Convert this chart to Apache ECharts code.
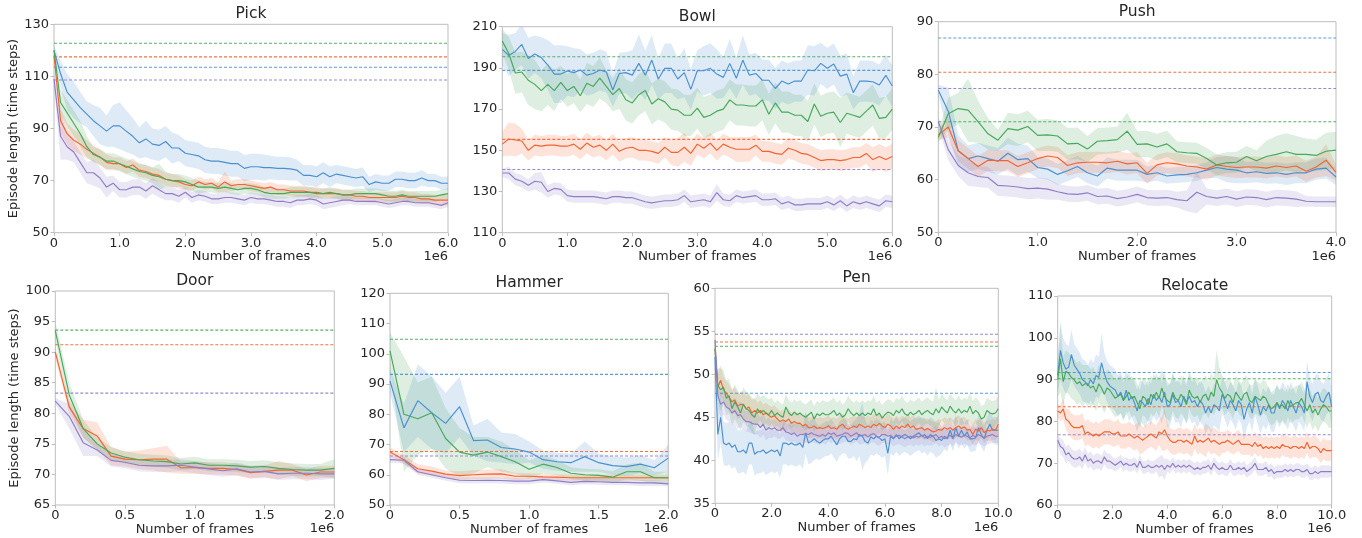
<!DOCTYPE html>
<html><head><meta charset="utf-8">
<script src="https://cdn.jsdelivr.net/npm/echarts@6/dist/echarts.min.js"></script>
<style>html,body{margin:0;padding:0;background:#fff}#c{width:1362px;height:538px}</style>
</head><body><div id="c"></div>
<script>
// ---------------- DATA (x sampled every 0.1e6 frames) ----------------
const STEP = 0.1;
const SERIES_COLORS = ['blue','orange','green','purple'];

// Pick
const pickBlue = [120,111,104,101,98,95.5,93,91,89,91, 91,89,87,84.5,86,84,83.5,85,82.5,82.5, 80.5,80,79.5,78,77.5,77.5,77,76.5,76.5,74.7, 75.3,75.3,75,75,74.7,74.7,74.5,74,72,72, 71.5,73,71.5,72.5,72,71.5,71,71.5,68.5,69.5, 69,69,70.5,70.5,70,70,71,70,70,69, 69];
const pickBlueS = [2,5,7,7,6,5,6,7,6,8, 9,8,7,6,7,6,6,6,6,5, 5,5,5,5,5,5,5,5,5,5, 5,5,5,4.5,4.5,4.5,4.5,4,4,4, 4,4,4,3.5,3.5,3.5,3.5,3.5,3,3, 3,3,3,3,3,3,3,2.5,2.5,2.5, 2.5];
const pickOrange = [118,93,88,85.5,84,82,80.5,79,77,76.5, 76.5,75,76,74,73.5,72.5,72,70.5,70,69.5, 68.5,68,69.5,68.5,69,67.5,69.5,68,68.5,68.5, 68,67.5,67,67.5,66.5,66.5,66,66,66,65.5, 65.5,65,65,65,64.5,64.5,64,64,63.5,63.5, 63.5,63.5,63.5,64,63.5,63.5,63,63,62.5,62.5, 62.5];
const pickOrangeS = [2,5,4,4,4,3.5,3,3,3,2.5, 2.5,2.5,2.5,2.5,2.5,2.5,2.5,2.5,2.5,2.5, 2,2,2,2,2,2,4,2,2,2, 2,2,2,2,2,2,2,2,2,2, 2,2,2,2,2,2,2,2,2,2, 2,2,2,2,2,2,2,2,2,2, 2];
const pickGreen = [120,100,96,92,88,83,80,79,77.5,77.5, 76.5,75.5,74.5,73.5,73,72,71.5,70.5,70,70, 69.5,68.5,67.5,67.5,67.5,67,67.5,67,66.5,67, 67,66.5,65.5,65,65,65,65.5,65.5,65.5,65.5, 65,65,65.5,65,64.5,64.5,65,65,65,65, 64.5,64,64,64.5,64,64,64,64,64,64.5, 65];
const pickGreenS = [2,5,5,5,5,4,3,3,3,3, 3,3,3,3,3,3,5,3,2.5,2.5, 2.5,2.5,2.5,2,2,2,2,2,2,2, 2,2,2,2,2,2,2,2,2,2, 2,2,2,2,2,2,2,2,2,2, 2,2,2,2,2,2,2,2,2,2, 2];
const pickPurple = [109,87,83,81,77,73,73,71,67.5,69, 66.5,66.5,67.5,67.5,66,68,66.5,65,65,64, 65.5,63.5,64.5,64,63,63,63.5,63.5,63,62.5, 63.5,63,63,62.5,62,62,61.5,62.5,62.5,63, 62.5,61,61.5,62,62.5,62.5,62,62,62,62, 61.5,61,61.5,62,62,61.5,61.5,61.5,61,60.5, 61.5];
const pickPurpleS = [3,9,5,4,4,4,5,4,4,3, 3,3,3,3,3,3,3,2.5,2.5,2.5, 2,2,2,2,2,2,2,2,2,2, 2,2,2,2,2,2,2,2,2,2, 2,2,2,2,2,1.5,1.5,1.5,1.5,1.5, 1.5,1.5,1.5,1.5,1.5,1.5,1.5,1.5,1.5,1.5, 1.5];
const pickRef = [113.5, 117.5, 122.7, 108.6];

// Bowl
const bowlBlue = [199,196,198,201.4,194.6,196.7,195,191.4,187,187, 188.5,187.7,189,186.5,187.3,189,188,179.3,187.3,187.7, 186.5,192.2,186.4,193.8,184.6,189.8,189.8,184.6,187.7,179.6, 188.6,188.6,189.8,187,185.4,192.2,185,193.8,186.5,187.3, 184,184,180,183.6,182.2,183.6,183.6,189,188.6,192.2, 189.8,191.9,186,187,178,183.6,183.6,183.3,181.7,186.4, 181.2];
const bowlBlueS = [8,10,9,10,10,9,10,12,14,14, 12,12,10,10,10,10,10,8,10,10, 12,14,12,12,10,12,12,10,12,10, 10,12,12,12,10,12,10,12,10,10, 10,10,10,10,10,10,10,12,12,10, 10,10,10,10,8,10,10,10,10,10, 10];
const bowlOrange = [153,155.5,155,154.5,150,152.5,152,152.5,152.5,152, 152,153,150.5,153.5,151.5,152.5,150,153,149.5,151, 151.5,150,150,149.5,148.5,151.5,149,149,151.5,148.5, 153,151,153.5,150,153,151.5,150.5,150.5,150.5,152.5, 149.5,149.5,148.5,148,151,150,148.5,148,146.5,145, 145.5,145.5,145,145.5,146.5,146.5,148.5,145.5,147,145.5, 147];
const bowlOrangeS = [6,8,8,6,5,5,5,5,5,5, 5,5,5,5,5,5,5,5,5,5, 5,5,5,5,5,5,6,7,7,6, 5,5,5,5,5,5,6,6,6,5, 5,5,5,5,5,5,5,5,5,5, 5,5,5,5,5,5,5,6,6,6, 6];
const bowlGreen = [203,197,187.5,188,184,182,179,182,179,183, 179,181,176.5,182.5,181,185,181,177,180,174.5, 173,177,179,172.5,175,173.5,170,169.5,167,167, 170.5,166,167,169,170,174.5,172,172,171.5,171.5, 174.5,167.5,173,168.5,168.5,167,167,164,172.5,166.5, 168,168.5,163.5,168,167,166,169,172,165.5,166, 170];
const bowlGreenS = [6,8,10,10,12,12,10,10,10,8, 8,8,8,10,10,10,8,8,10,10, 10,10,10,10,10,10,10,10,10,10, 10,10,10,10,10,10,10,10,10,10, 10,10,10,10,10,10,10,10,10,10, 10,10,12,10,10,10,10,10,10,10, 10];
const bowlPurple = [139,139,136,135,133,135,134.5,130,131.5,131, 128,127.5,127.5,127.5,127.5,127,126.5,127.5,127.5,127, 127,126,125,124.5,125,125.5,125.5,126,128,125, 125.5,126,125,129.5,126,125.5,128,127,127.5,128, 126,126,126.5,124,125,123.5,123.5,124,124,124, 125,123.5,125.5,123,125,124,125,124,123,125.5, 125];
const bowlPurpleS = [2,3,3,3,3,4,5,3,3,3, 3,3,3,3,3,3,3,3,3,3, 3,3,3,3,3,3,3,3,3,3, 3,3,3,4,3,3,3,3,3,3, 3,3,3,3,3,3,3,3,3,3, 3,3,3,3,3,3,3,3,3,3, 3];
const bowlRef = [188.8, 155.3, 195.4, 140.7];

// Push
const pushBlue = [77,73,65.5,64,64.5,64,63.5,65,63.8,64, 62.3,62,61,61.7,62.5,61.3,60.7,62.2,61.8,61.8, 61.8,61,61.3,60.7,60.9,61,61.3,61.8,62.3,62, 61.8,61.3,61.5,61.2,61.3,61,61.3,61.3,62,62.2, 60.5];
const pushBlueS = [1,4.5,3,2.5,2.5,2.5,2.5,3,3,2.5, 2,2,2,2,2,2,2,2,2,2, 2,1.5,1.5,1.5,1.5,1.5,1.5,1.5,2,2.5, 2.5,2,2,2,2,2,2,2,2,2, 1.5];
const pushOrange = [68.5,70,65.5,64,62.5,63.7,63.6,63.6,62.5,63.2, 64,64.5,64.2,62.7,63.2,63.3,63.3,63.2,63.5,63, 63.2,61.2,62.8,63.2,63,62.6,62.4,62,62.8,62.5, 62.3,62.4,62.4,62.2,62.6,62.3,62.6,61.6,62.4,63.7, 61.4];
const pushOrangeS = [1,2,2,2,2,2,2,2,2,2, 2,2,2,2,2,2,2,2,2,2, 2,2,2,2,2,2,2,2,2,2, 2,2,2,2,2,2,2,2,2,3, 1.5];
const pushGreen = [68,72.5,73.5,73.2,71,68.7,67.5,69.7,69.4,70.1, 68.4,68.5,68.3,66.8,66.9,65.8,67.3,67.4,67.6,69.2, 66.7,66.8,66.2,66.8,65.3,65.1,65,64,62.8,63.2, 63.3,64.4,63.6,64.4,64.8,65.3,64.8,64.8,64.6,65.4, 65.6];
const pushGreenS = [1,3,3,6,4,3,2,3,3,3, 3,3,3,3,3,2.5,2.5,2.5,2.5,3.5, 2.5,2.5,2.5,2.5,2,2,2,2,2,2, 2,2,2,3,3.5,3.5,3.5,3,3,3.5, 3.5];
const pushPurple = [71,65.7,62.7,61.3,60.6,60.4,58.9,58.8,58.6,58.3, 58.4,58.2,57.7,57.3,57.2,57.5,56.8,56.9,56.4,56.7, 57.2,56.6,56.5,56.6,56.2,56,57.6,56.8,56.5,56.8, 56.3,56.7,56.6,56.2,56.6,56.5,56.3,55.9,55.8,55.8, 55.8];
const pushPurpleS = [1,2,2,2.5,2,2,2,2,2,2, 2,2,1.5,1.5,1.5,1.5,1.5,1.5,1.5,1.5, 1.5,1.5,1.5,1.5,1.5,2,4,1.5,1.5,1.5, 1.5,1.5,1.5,1.5,1.5,1.5,1.5,1,1,1, 1];
const pushRef = [86.9, 80.4, 71, 77.3];

// Door (no blue series)
const doorOrange = [90,81,77.5,76.3,73,72.5,72.4,72.5,72.5,71.1, 71.1,71,71,70.8,70.3,70.5,70.7,70.7,69.9,70.4, 70.4];
const doorOrangeS = [1,1,1.5,2.2,1.5,1.2,1.5,1.8,2.2,1, 1,1,1,1,1,1,1.5,1,1,1, 1];
const doorGreen = [93.5,83,77.5,75,73.5,72.8,72.4,72.2,72.1,71.7, 71.9,71.5,71.5,71.4,71.2,71.3,71,70.8,70.7,70.7, 71];
const doorGreenS = [1.5,2,1.5,1,1,1,1,1,1,1, 1,1,1,1,1,1,1,1,1,1, 1.5];
const doorPurple = [82,79.5,75.2,74,72.3,72,71.5,71.4,71.4,71.5, 71.2,70.9,70.6,70.9,70.4,70.5,70.1,70.2,70.2,70.1, 70.1];
const doorPurpleS = [0.5,2,2.2,1,1,1,1,1,1,1, 1,1,1,1,1,1,1,1,1,1, 0.8];
const doorRef = [null, 91.2, 93.6, 83.3];

// Hammer
const hammerBlue = [91,75.5,84.5,80.5,77,82.5,71.3,71.5,69,68.5, 67.5,65,64.3,64,66,64,63,62.7,63.5,62.3, 65.5];
const hammerBlueS = [4,8,12,12,10,10,5,7,5,5, 3.5,3,3,3,5,3,3,3,3,2.5, 4.5];
const hammerOrange = [67.5,65,62,61.2,60.2,59.7,60,60.2,60.3,59.5, 59.5,59.3,59.2,59,59,59,59,59,59,59, 59];
const hammerOrangeS = [1.5,1.5,1.5,1.5,1.2,1.5,1.5,1.5,1.5,1.2, 1,1,1,1,1,1,1,1,1,1, 1];
const hammerGreen = [101,80,78.5,80.5,72,67.5,66.5,67.5,66,64.3, 61.8,63.5,62.4,60.5,60,59.8,59.2,61,61,59, 59];
const hammerGreenS = [6,19,12,12,10,8,6,5,5,4, 3,3,2.5,2,2,2,2,2.5,3,2, 2];
const hammerPurple = [65,64.8,61,60,59,58.2,58.1,58.2,58.1,57.9, 57.9,58.4,58,57.5,57.8,57.7,57.5,57.5,57.3,57.3, 57];
const hammerPurpleS = [1,1,1,1,1,1,1,1,1,1, 1,1,1,1,1,1,1,1,1,1, 0.8];
const hammerRef = [93.2, 67.7, 104.8, 66.2];

// Pen
const penBlue = [52,43,45,42,41.8,42,41.5,41.8,41,41, 41.2,40.8,42,42,40.7,41,41,41.2,40.8,41, 41.2,41,41.2,40.5,42,42,41.8,42,41.8,41.8, 42,41.5,43.2,42,42.2,42.5,42.2,42,42.3,42.5, 42.5,42.8,42.3,41.8,42.5,42.8,42.8,42.2,42.2,42.5, 42.4,43,42.8,42.2,42,42.7,42.5,42.8,42.6,42.3, 42.5,40.8,42.8,42.5,43,42.5,42.8,43,42.8,42.5, 42.8,43,43.2,42.8,43,42.5,43,42.8,42.3,42.5, 42.3,42.8,42.5,43.5,42.5,43.8,42.8,43.5,42.8,43.3, 42.5,42.5,42.6,43.8,43,42.5,43.5,44.2,43.5,43.5, 43.5];
const penBlueS = [2,3,3,2.5,2.5,2.5,2.5,2.5,2.5,2.5, 2.5,2.5,2.5,2.5,2.5,2.5,2.5,2.5,2.5,2.5, 2.5,2.5,2.5,2.5,2.5,2.5,2.5,2.5,2.5,2.5, 2.5,2.5,2.5,2.5,2.5,2.5,2,2,2,2, 2,2,2,2,2,2,2,2,2,2, 2.5,2.5,4,2.5,2,2,2,2,2,2, 2,2.5,2,2,2,2,2,2,2,2, 2,2,2,2,2,2,2,2,2,2, 1.5,1.5,1.5,1.5,1.5,1.5,1.5,1.5,1.5,1.5, 1.5,1.5,1.5,1.5,1.5,1.5,1.5,1.5,1.5,1.5, 1.5];
const penOrange = [53,48.5,49.3,48.2,47.8,47.3,46.8,47,46.3,46.5, 46.5,46,46.2,45.5,45.8,45.5,45.8,45.3,45.5,45.2, 45,45.2,44.8,44.5,44.7,44.5,44.8,44.3,44.5,44.3, 44.3,44,44.2,43.8,43.8,44,43.7,43.8,43.7,43.8, 44,43.7,43.8,43.6,44,44.2,43.8,43.6,43.8,44, 43.8,44.2,44,43.8,44,43.8,44.2,44,44.3,44, 43.8,44.2,44,43.6,44,43.7,44,43.8,44.2,43.8, 44,43.6,43.7,43.8,43.5,43.7,43.5,43.3,43.4,43.6, 43.5,43.8,43.6,43.8,43.5,43.8,44,43.7,43.9,43.5, 43.6,43,43.6,43.4,43.8,43.2,43.5,43.4,43.6,43.5, 44.2];
const penOrangeS = [1,1.5,1.8,1.5,1.5,1.5,1.5,1.5,1.5,1.5, 1.5,1.5,1.5,1.5,1.5,1.2,1.2,1.2,1.2,1.2, 1.2,1.2,1.2,1.2,1.2,1.2,1.2,1.2,1.2,1.2, 1.2,1.2,1.2,1.2,1.2,1.2,1.2,1.2,1.2,1.2, 1.2,1.2,1.2,1.2,1.2,1.2,1.2,1.2,1.2,1.2, 1.2,1.2,1.2,1.2,1.2,1.2,1.2,1.2,1.2,1.2, 1.2,1.2,1.2,1.2,1.2,1.2,1.2,1.2,1.2,1.2, 1.2,1.2,1.2,1.2,1.2,1.2,1.2,1.2,1.2,1.2, 1.2,1.2,1.2,1.2,1.2,1.2,1.2,1.2,1.2,1.2, 1.2,1.2,1.2,1.2,1.2,1.2,1.2,1.2,1.2,1.2, 1.2];
const penGreen = [53,48.7,48.2,48.5,47.2,47.5,46,46.8,46.2,45.5, 46.5,46,45.8,45.3,45,46,45.5,45.8,45.5,45.3, 45.8,45.2,45.5,45.2,45,46.2,45.5,45.2,45.6,45.3, 45.5,45.2,45,45.3,45.6,44.8,45.4,45.2,45.5,45.3, 45.3,45.5,45.8,45.2,45.5,45,45.3,46,45.5,45.2, 45.5,45.2,45.5,45.2,45.5,45.3,46,45.2,45.5,44.9, 45.3,45.6,45.5,45.2,45.8,45.5,46,45.4,45.2,45.6, 45.3,45.5,45.8,45.3,45.6,45.8,45.5,45.3,46,45.5, 46.2,45.8,45.5,46.3,45.8,45.5,46,45.5,45.8,45.6, 46.3,45.4,45.8,45.5,44.8,45,45.8,45.5,45.4,45.5, 46];
const penGreenS = [1,2,2.5,2,2,2,2,2,2,2, 2,2,2,2,2,1.8,1.8,1.8,1.8,1.8, 1.5,1.5,1.5,1.5,1.5,1.5,1.5,1.5,1.5,1.5, 1.5,1.5,1.5,1.5,1.5,1.5,1.5,1.5,1.5,1.5, 1.5,1.5,1.5,1.5,1.5,1.5,1.5,1.5,1.5,1.5, 1.5,1.5,1.5,1.5,1.5,1.5,1.5,1.5,1.5,1.5, 1.5,1.5,1.5,1.5,1.5,1.5,1.5,1.5,1.5,1.5, 1.5,1.5,1.5,1.5,1.5,1.5,1.5,1.5,2.5,1.5, 1.5,1.5,1.5,1.5,1.5,1.5,1.5,1.5,1.5,1.5, 1.5,1.5,1.5,1.5,1.5,1.5,1.5,1.5,1.5,1.5, 1.5];
const penPurple = [54,47.5,46.5,46.8,46.2,46,45.5,45.8,45.2,45.3, 44.8,44.5,44.5,44.3,44.2,44.2,43.8,44.2,43.5,43.8, 43.6,43.8,43.5,43.5,43.8,43.3,43.2,43,43.2,42.8, 43,43,43.1,43,43.2,43,42.9,42.8,43,42.8, 43.2,43,43.2,42.8,42.9,43,43.2,43.1,42.8,43, 43.2,42.8,42.9,43,42.7,43,43.1,42.8,42.7,43, 43,42.8,42.9,42.6,42.8,42.9,42.7,42.5,42.7,42.8, 42.6,42.8,42.7,42.9,42.6,42.8,42.7,42.8,43,42.6, 42.8,42.5,42.7,42.9,42.6,43,42.8,42.7,42.9,42.8, 42.6,42.9,42.7,43,42.8,42.6,42.8,42.9,43,42.8, 42.8];
const penPurpleS = [1,1.5,1.5,1.5,1.5,1.5,1.5,1.5,1.5,1.5, 1.2,1.2,1.2,1.2,1.2,1.2,1.2,1.2,1.2,1.2, 1,1,1,1,1,1,1,1,1,1, 1,1,1,1,1,1,1,1,1,1, 1,1,1,1,1,1,1,1,1,1, 1,1,1,1,1,1,1,1,1,1, 1,1,1,1,1,1,1,1,1,1, 1,1,1,1,1,1,1,1,1,1, 1,1,1,1,1,1,1,1,1,1, 1,1,1,1,1,1,1,1,1,1, 1];
const penRef = [47.8, 53.76, 53.26, 54.65];

// Relocate
const relocateBlue = [91,97,94,92.5,93,96,93.5,92.5,91.5,90, 89.5,88.5,90,89,91,90.5,94,91.5,89.5,88.5, 88,87.5,86,87,85,87.5,85,86,84.5,82.5, 85,84.5,83.5,85.5,84,86.5,85,86,84.5,87, 83.5,84,86.5,84.5,85,83.5,86,84.5,86,84.5, 85,83.5,85,84,82,83.5,82,84,83.5,82.5, 86.5,85,83,85,84,82.5,85,84,80.5,83, 84.5,82,86,84,81.5,83.5,82.5,84,82,82, 84.5,83,85,84,82.5,85,83.5,82,84.5,83.5, 82,89.5,86,84.5,86.5,87,85,84.5,86,87, 83.5];
const relocateBlueS = [4,7,6,6,5,6,5,5,5,5, 5,5,5,5,5,5,7,5,5,5, 5,5,5,5,5,5,5,5,5,5, 5,5,5,5,5,5,5,5,5,5, 5,5,5,5,5,5,5,5,5,5, 5,5,5,5,5,5,5,5,5,5, 4.5,4.5,4.5,4.5,4.5,4.5,4.5,4.5,5,4.5, 4.5,4.5,4.5,4.5,4.5,4.5,4.5,4.5,4.5,4.5, 4.5,4.5,4.5,4.5,4.5,4.5,4.5,4.5,4.5,4.5, 4.5,5,4.5,4.5,4.5,4.5,4.5,4.5,4.5,4.5, 4.5];
const relocateOrange = [82.5,82,83,80.5,80,79,78.5,78.5,78.5,79, 77,77.5,77,76.5,77,76.5,77,77.5,77.5,77.5, 77,77,77.5,76.5,76.5,76.5,77,76.5,76,76.5, 76,75.5,76,76.5,77,76.5,76,77.5,77,78, 76.5,75.5,75,75,75.5,75.5,75,75.5,75,74.5, 76.5,75,75.5,75,75.5,76,75,75.5,75,74.5, 75,75,75.5,75,74.5,75,75.5,74.5,74.5,74.5, 74.5,74,75,74,74.5,73.5,74,73.5,74,73.5, 74,73.5,74.5,74,74,73.5,74,74,73.5,74, 73.5,75,73.5,74,74,73.5,72.5,73.5,73,73, 73];
const relocateOrangeS = [1.5,2,2.5,2.5,3,3,3,3,3,3, 3,3,3,3,3,3,3,3,3,3, 3,3,3,3,3,3,3,3,3,3, 4,3,3,3,3,3,3,3,4,5, 3,3,3,3,3,3,3,3,3,3, 3,3,3,3,4,3,3,3,3,3, 2.5,2.5,2.5,2.5,2.5,2.5,2.5,2.5,2.5,2.5, 2.5,2.5,2.5,2.5,2.5,2.5,2.5,2.5,2.5,2.5, 2.5,2.5,2.5,2.5,2.5,2.5,2.5,2.5,2.5,2.5, 2.5,2.5,2.5,2.5,2.5,2.5,2.5,2.5,2.5,2.5, 2.5];
const relocateGreen = [90,95,89.5,92,91.5,90.5,90,89,89.5,88.5, 89,89,88,88.5,87,89,88,86.5,88,87.5, 86.5,85.5,86,86.5,85,86,87,85.5,86,84.5, 83,86,85.5,84,86.5,85.5,87,85.5,88,86, 85,84.5,87,85.5,85,86.5,85.5,84,87.5,86, 85.5,86,84.5,86,86.5,85,87,86,90,88, 87,85.5,86.5,86,84.5,87,86,85,86.5,87, 85,84.5,86,85.5,85,86,85.5,84,83,83.5, 84.5,83.5,84,83,85,83.5,84,84.5,84.5,85.5, 84,82.5,84,82,83,81.5,83,84,83.5,82.5, 82.5];
const relocateGreenS = [4,8,6,5,5,5,5,5,5,5, 4.5,4.5,4.5,4.5,4.5,4.5,4.5,4.5,4.5,4.5, 4.5,4.5,4.5,4.5,4.5,4.5,4.5,4.5,4.5,4.5, 4.5,4.5,4.5,4.5,4.5,4.5,4.5,4.5,4.5,4.5, 4.5,4.5,4.5,4.5,4.5,4.5,4.5,4.5,4.5,4.5, 4.5,4.5,4.5,4.5,4.5,4.5,4.5,4.5,7,5, 4,4,4,4,4,4,4,4,4,4, 4,4,4,4,4,4,4,4,4,4, 4,4,4,4,4,4,4,4,4,4, 4,4,4,4,4,4,4,4,4,4, 4];
const relocatePurple = [75.5,74,73.5,72,72.5,71.5,71,71,71.5,70.5, 72,70.5,71,70,70.5,70.5,70,71.5,70.5,70.5, 70,69.5,70,70.5,69.5,70,69.5,69.5,70,69, 70.5,69,69,69.5,69,69,69.5,69,69.5,68.5, 69.5,69,70,69,69.5,69,69.5,69,69.5,69, 68.5,69,68.5,69,69,69.5,68.5,70,69,68.5, 69,68.5,68.5,69.5,68.5,68.5,69,68.5,69,68, 68.5,69,70,68.5,68.5,68.5,69,68,68.5,67.5, 68,68,68,68.5,68,68.5,68,68.5,68.5,68, 68,68.5,67.5,67.5,68,67.5,68,68,68,68, 68];
const relocatePurpleS = [1,2,2,2,2,2,2,2,2,2, 1.8,1.8,1.8,1.8,1.8,1.8,1.8,1.8,1.8,1.8, 1.5,1.5,1.5,1.5,1.5,1.5,1.5,1.5,1.5,1.5, 1.5,1.5,1.5,1.5,1.5,1.5,1.5,2.5,2.5,2.5, 1.5,1.5,1.5,1.5,1.5,1.5,1.5,1.5,1.5,1.5, 1.5,1.5,1.5,1.5,1.5,1.5,1.5,1.5,1.5,1.5, 1.5,1.5,1.5,1.5,1.5,1.5,1.5,1.5,1.5,1.5, 1.5,1.5,1.5,1.5,1.5,1.5,1.5,1.5,1.5,1.5, 1.5,1.5,1.5,1.5,1.5,1.5,1.5,1.5,1.5,1.5, 1.5,1.5,1.5,1.5,1.5,1.5,1.5,1.5,1.5,1.5, 1.2];
const relocateRef = [91.7, 83.5, 90.2, 76.8];

// ---------------- LAYOUT / STYLE ----------------
const COLOR = {blue:'#4a90d0', orange:'#f26430', green:'#46a85a', purple:'#8f7dc6'};
const BAND_ALPHA = 0.18;
const FONT = 'DejaVu Sans';
const TEXT = '#262626';
const FRAME = '#bdbdbd';

const panels = [
  {title:'Pick', left:54, top:24.3, width:394, height:208.4, xMax:6, xInt:1, yMin:50, yMax:130, yInt:20, ylabel:true,
   data:[[pickBlue,pickBlueS],[pickOrange,pickOrangeS],[pickGreen,pickGreenS],[pickPurple,pickPurpleS]], ref:pickRef},
  {title:'Bowl', left:502.3, top:26.7, width:390, height:206, xMax:6, xInt:1, yMin:110, yMax:210, yInt:20,
   data:[[bowlBlue,bowlBlueS],[bowlOrange,bowlOrangeS],[bowlGreen,bowlGreenS],[bowlPurple,bowlPurpleS]], ref:bowlRef},
  {title:'Push', left:938.3, top:21.7, width:397.7, height:210.6, xMax:4, xInt:1, yMin:50, yMax:90, yInt:10,
   data:[[pushBlue,pushBlueS],[pushOrange,pushOrangeS],[pushGreen,pushGreenS],[pushPurple,pushPurpleS]], ref:pushRef},
  {title:'Door', left:55.3, top:291, width:279, height:214, xMax:2, xInt:0.5, yMin:65, yMax:100, yInt:5, ylabel:true,
   data:[null,[doorOrange,doorOrangeS],[doorGreen,doorGreenS],[doorPurple,doorPurpleS]], ref:doorRef},
  {title:'Hammer', left:390, top:293.3, width:278.3, height:211.7, xMax:2, xInt:0.5, yMin:50, yMax:120, yInt:10,
   data:[[hammerBlue,hammerBlueS],[hammerOrange,hammerOrangeS],[hammerGreen,hammerGreenS],[hammerPurple,hammerPurpleS]], ref:hammerRef},
  {title:'Pen', left:715, top:288.3, width:283.3, height:215, xMax:10, xInt:2, yMin:35, yMax:60, yInt:5,
   data:[[penBlue,penBlueS],[penOrange,penOrangeS],[penGreen,penGreenS],[penPurple,penPurpleS]], ref:penRef},
  {title:'Relocate', left:1057.7, top:296, width:274, height:209, xMax:10, xInt:2, yMin:60, yMax:110, yInt:10,
   data:[[relocateBlue,relocateBlueS],[relocateOrange,relocateOrangeS],[relocateGreen,relocateGreenS],[relocatePurple,relocatePurpleS]], ref:relocateRef}
];

panels.forEach(p => p.data.forEach((d, k) => {
  if (!d) return;
  const n = Math.round(p.xMax / STEP) + 1;
  if (d[0].length !== n || d[1].length !== n) throw new Error(p.title + ' ' + SERIES_COLORS[k] + ' length ' + d[0].length + '/' + d[1].length + ' expected ' + n);
}));

function rgba(hex, a) {
  const n = parseInt(hex.slice(1), 16);
  return 'rgba(' + ((n >> 16) & 255) + ',' + ((n >> 8) & 255) + ',' + (n & 255) + ',' + a + ')';
}

const option = {animation:false, backgroundColor:'#fff', grid:[], xAxis:[], yAxis:[], series:[], graphic:[]};
const fmtX = v => v === 0 ? '0' : v.toFixed(1);

panels.forEach((p, gi) => {
  const base = p.yMin; // axis runs 0..(yMax-yMin); tick labels add base back
  option.grid.push({left:p.left, top:p.top, width:p.width, height:p.height, show:true, borderColor:FRAME, borderWidth:1,
    backgroundColor:'rgba(0,0,0,0)', containLabel:false, outerBoundsMode:'none'});
  option.xAxis.push({type:'value', gridIndex:gi, min:0, max:p.xMax, interval:p.xInt,
    axisLine:{show:false}, splitLine:{show:false},
    axisTick:{show:true, length:3.5, lineStyle:{color:FRAME, width:1}},
    axisLabel:{show:true, color:TEXT, fontSize:13, fontFamily:FONT, margin:4, showMinLabel:true, showMaxLabel:true, hideOverlap:false, formatter:fmtX},
    name:'Number of frames', nameLocation:'middle', nameGap:17,
    nameTextStyle:{color:TEXT, fontSize:13, fontFamily:FONT}});
  option.yAxis.push({type:'value', gridIndex:gi, min:0, max:p.yMax - base, interval:p.yInt,
    axisLine:{show:false}, splitLine:{show:false},
    axisTick:{show:true, length:3.5, lineStyle:{color:FRAME, width:1}},
    axisLabel:{show:true, color:TEXT, fontSize:13, fontFamily:FONT, margin:5, showMinLabel:true, showMaxLabel:true, hideOverlap:false,
      formatter: v => String(Math.round(v + base))},
    name: p.ylabel ? 'Episode length (time steps)' : '', nameLocation:'middle', nameGap:33, nameRotate:90,
    nameTextStyle:{color:TEXT, fontSize:13, fontFamily:FONT}});

  // shaded bands (drawn first)
  p.data.forEach((d, k) => {
    if (!d) return;
    const col = COLOR[SERIES_COLORS[k]];
    const [mean, spread] = d;
    const rows = mean.map((m, i) => [Math.round(i * STEP * 100) / 100, m - spread[i] - base, m + spread[i] - base]);
    option.series.push({type:'custom', xAxisIndex:gi, yAxisIndex:gi, silent:true, z:1,
      encode:{x:0, y:[1, 2]}, data: rows,
      renderItem: (params, api) => {
        if (params.dataIndex !== 0) return null;
        const pts = [];
        for (let i = 0; i < rows.length; i++) pts.push(api.coord([rows[i][0], rows[i][2]]));
        for (let i = rows.length - 1; i >= 0; i--) pts.push(api.coord([rows[i][0], rows[i][1]]));
        const cs = params.coordSys;
        return {type:'polygon', shape:{points:pts}, style:{fill:rgba(col, BAND_ALPHA), stroke:null},
          clipPath:{type:'rect', shape:{x:cs.x, y:cs.y, width:cs.width, height:cs.height}}};
      }});
  });

  // reference dashed lines
  p.ref.forEach((r, k) => {
    if (r == null) return;
    const col = COLOR[SERIES_COLORS[k]];
    option.series.push({type:'line', xAxisIndex:gi, yAxisIndex:gi, silent:true, z:2,
      data:[[0, r - base], [p.xMax, r - base]], symbol:'none', showSymbol:false,
      lineStyle:{color:col, width:1.1, type:[3, 2], opacity:0.9}, emphasis:{disabled:true}});
  });

  // mean curves
  p.data.forEach((d, k) => {
    if (!d) return;
    const col = COLOR[SERIES_COLORS[k]];
    const mean = d[0];
    option.series.push({type:'line', xAxisIndex:gi, yAxisIndex:gi, silent:true, z:3,
      data: mean.map((m, i) => [Math.round(i * STEP * 100) / 100, m - base]),
      symbol:'none', showSymbol:false, lineStyle:{color:col, width:1.15}, emphasis:{disabled:true}});
  });

  option.graphic.push({type:'text', x:p.left + p.width / 2, y:p.top - 10,
    style:{text:p.title, fill:TEXT, fontSize:15.5, fontFamily:FONT, align:'center', verticalAlign:'middle'}});
  option.graphic.push({type:'text', x:p.left + p.width, y:p.top + p.height + 24,
    style:{text:'1e6', fill:TEXT, fontSize:13, fontFamily:FONT, align:'right', verticalAlign:'middle'}});
});

const chart = echarts.init(document.getElementById('c'), null, {renderer:'canvas'});
chart.setOption(option);
</script></body></html>
